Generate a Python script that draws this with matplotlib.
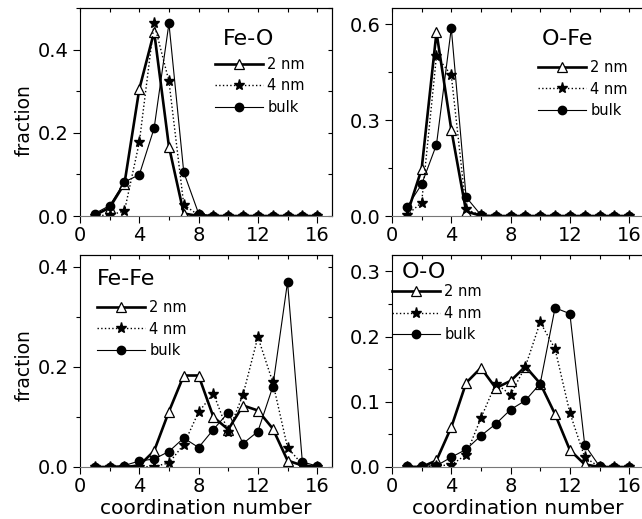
import numpy as np
import matplotlib
matplotlib.use("Agg")
import matplotlib.pyplot as plt
from matplotlib.ticker import MultipleLocator

plt.rcParams["font.family"] = ["DejaVu Sans"]

# --- Data ---
cn = np.arange(1, 17)

feo_2nm = [0.002, 0.02, 0.078, 0.305, 0.443, 0.167, 0.006, 0, 0, 0, 0, 0, 0, 0, 0, 0]
feo_4nm = [0.001, 0.002, 0.012, 0.177, 0.463, 0.324, 0.027, 0.002, 0, 0, 0, 0, 0, 0, 0, 0]
feo_bulk = [0.006, 0.025, 0.082, 0.099, 0.211, 0.463, 0.105, 0.006, 0, 0, 0, 0, 0, 0, 0, 0]

ofe_2nm = [0.003, 0.147, 0.574, 0.27, 0.014, 0.001, 0, 0, 0, 0, 0, 0, 0, 0, 0, 0]
ofe_4nm = [0.003, 0.042, 0.5, 0.44, 0.021, 0.002, 0, 0, 0, 0, 0, 0, 0, 0, 0, 0]
ofe_bulk = [0.027, 0.099, 0.223, 0.587, 0.059, 0.003, 0, 0, 0, 0, 0, 0, 0, 0, 0, 0]

fefe_2nm = [0, 0, 0, 0.003, 0.032, 0.111, 0.183, 0.183, 0.1, 0.075, 0.123, 0.113, 0.077, 0.013, 0.003, 0]
fefe_4nm = [0, 0, 0, 0, 0.001, 0.008, 0.045, 0.11, 0.147, 0.07, 0.145, 0.26, 0.17, 0.039, 0.005, 0]
fefe_bulk = [0.001, 0.001, 0.003, 0.012, 0.016, 0.031, 0.058, 0.039, 0.075, 0.109, 0.047, 0.071, 0.16, 0.37, 0.01, 0.002]

oo_2nm = [0, 0, 0.01, 0.061, 0.129, 0.152, 0.121, 0.132, 0.154, 0.128, 0.081, 0.026, 0.004, 0, 0, 0]
oo_4nm = [0, 0, 0.002, 0.003, 0.019, 0.075, 0.128, 0.111, 0.154, 0.222, 0.181, 0.083, 0.015, 0, 0, 0]
oo_bulk = [0.001, 0.001, 0.002, 0.015, 0.027, 0.048, 0.066, 0.088, 0.102, 0.128, 0.244, 0.235, 0.034, 0.001, 0, 0]

panels = [
    ("Fe-O", feo_2nm, feo_4nm, feo_bulk),
    ("O-Fe", ofe_2nm, ofe_4nm, ofe_bulk),
    ("Fe-Fe", fefe_2nm, fefe_4nm, fefe_bulk),
    ("O-O", oo_2nm, oo_4nm, oo_bulk),
]

# --- Layout (pixel boxes measured on the reference) ---
W, H = 642, 519
fig = plt.figure(figsize=(W / 100, H / 100), dpi=100)

def px_axes(left, top, right, bottom):
    return fig.add_axes([left / W, 1 - bottom / H, (right - left) / W, (bottom - top) / H])

axes = [
    px_axes(80, 8, 332, 216),
    px_axes(392, 8, 644, 216),
    px_axes(80, 255, 332, 467),
    px_axes(392, 255, 644, 467),
]

ylims = [0.5, 0.65, 0.424, 0.325]
ymajor = [0.2, 0.3, 0.2, 0.1]
yminor = [0.1, 0.15, 0.1, 0.05]
# panel label (x, baseline y, ha) and legend anchor, axes coords
label_pos = [(0.67, 0.822, "center"), (0.696, 0.822, "center"),
             (0.067, 0.858, "left"), (0.04, 0.89, "left")]
leg_pos = [(0.535, 0.765), (0.579, 0.75), (0.067, 0.788), (0.0, 0.863)]
ylabel_y = {0: 0.46, 2: 0.48}

for i, (ax, (name, s2, s4, sb)) in enumerate(zip(axes, panels)):
    ax.plot(cn, s2, "-^", color="black", lw=1.9, ms=7, mfc="white",
            mec="black", mew=0.9, label="2 nm")
    ax.plot(cn, s4, ":*", color="black", lw=1.0, ms=8, mfc="black",
            mec="black", label="4 nm")
    ax.plot(cn, sb, "-o", color="black", lw=0.8, ms=6, mfc="black",
            mec="black", label="bulk")

    ax.set_xlim(0, 17)
    ax.set_ylim(0, ylims[i])
    ax.xaxis.set_major_locator(MultipleLocator(4))
    ax.xaxis.set_minor_locator(MultipleLocator(2))
    ax.yaxis.set_major_locator(MultipleLocator(ymajor[i]))
    ax.yaxis.set_minor_locator(MultipleLocator(yminor[i]))
    ax.tick_params(which="both", direction="out", labelsize=14, width=0.8,
                   top=False, right=False)
    ax.tick_params(which="major", length=5)
    ax.tick_params(which="minor", length=3)
    ax.tick_params(axis="x", pad=2)
    for sp in ax.spines.values():
        sp.set_linewidth(0.8)
    ax.spines["bottom"].set_color("#777777")

    # small inward ticks on the top (and right for the left panels)
    sec_x = ax.secondary_xaxis("top")
    sec_x.xaxis.set_major_locator(MultipleLocator(2))
    sec_x.tick_params(direction="in", length=3, width=0.8, labeltop=False)
    if i in (0, 2):
        sec_y = ax.secondary_yaxis("right")
        sec_y.yaxis.set_major_locator(MultipleLocator(yminor[i]))
        sec_y.tick_params(direction="in", length=3, width=0.8, labelright=False)

    lx, ly, ha = label_pos[i]
    ax.text(lx, ly, name, transform=ax.transAxes, fontsize=16, ha=ha, va="baseline")

    ax.legend(loc="upper left", bbox_to_anchor=leg_pos[i], frameon=False,
              fontsize=10.5, handlelength=3.3, handletextpad=0.3,
              labelspacing=0.45, borderpad=0, borderaxespad=0)

    if i in (0, 2):
        ax.set_ylabel("fraction", fontsize=13.5)
        ax.yaxis.set_label_coords(-0.185, ylabel_y[i])
    if i in (2, 3):
        ax.set_xlabel("coordination number", fontsize=14.5, labelpad=2)

plt.savefig("out.png", dpi=100)
plt.close()
